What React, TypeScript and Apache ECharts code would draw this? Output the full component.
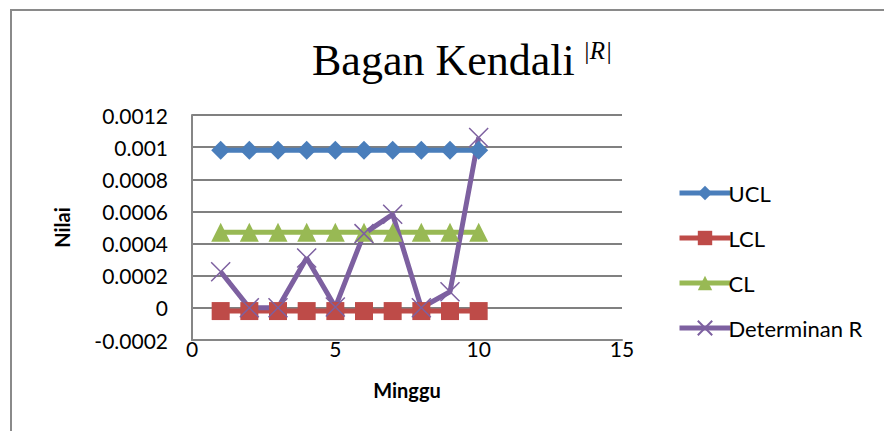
import React, { useEffect, useRef } from "react";
import * as echarts from "echarts";

const weeks = [1, 2, 3, 4, 5, 6, 7, 8, 9, 10];
const ucl = [0.00098, 0.00098, 0.00098, 0.00098, 0.00098, 0.00098, 0.00098, 0.00098, 0.00098, 0.00098];
const lcl = [-0.00002, -0.00002, -0.00002, -0.00002, -0.00002, -0.00002, -0.00002, -0.00002, -0.00002, -0.00002];
const cl = [0.00047, 0.00047, 0.00047, 0.00047, 0.00047, 0.00047, 0.00047, 0.00047, 0.00047, 0.00047];
const detR = [0.000225, 0.0000005, 0.000001, 0.00031, 0.000005, 0.000462, 0.000582, 0.000001, 0.0001, 0.00106];

const pair = (ys: number[]) => weeks.map((w, i) => [w, ys[i]]);

const FONT = "Lato";

export default function App() {
  const ref = useRef<HTMLDivElement>(null);
  useEffect(() => {
    if (!ref.current) return;
    const chart = echarts.init(ref.current, undefined, { renderer: "svg" });
    const lineSeries = (name: string, data: number[], color: string, symbol: string, size: number, extra: any = {}) => ({
      name,
      type: "line",
      data: pair(data),
      symbol,
      symbolSize: size,
      showAllSymbol: true,
      lineStyle: { color, width: 5 },
      itemStyle: { color, ...extra },
      emphasis: { disabled: true },
    });
    chart.setOption({
      animation: false,
      backgroundColor: "#ffffff",
      title: {
        text: "Bagan Kendali",
        left: 307,
        top: 33,
        textStyle: { fontFamily: "Liberation Serif", fontSize: 44, fontWeight: "normal", color: "#000" },
      },
      graphic: [
        {
          type: "rect",
          shape: { x: 11, y: 10, width: 1000, height: 600 },
          style: { fill: "none", stroke: "#8a8a8a", lineWidth: 2 },
          silent: true,
        },
        {
          type: "text",
          x: 583,
          y: 38,
          style: { text: "|R|", font: "italic 25px 'Liberation Serif'", fill: "#000" },
        },
      ],
      legend: {
        orient: "vertical",
        left: 672,
        top: 177,
        itemWidth: 51,
        itemHeight: 18,
        itemGap: 23,
        lineStyle: { width: 5 },
        textStyle: { fontFamily: FONT, fontSize: 22, color: "#000", padding: [0, 0, 0, -7] },
        data: ["UCL", "LCL", "CL", "Determinan R"],
      },
      grid: { left: 192, right: 262, top: 115, bottom: 91, containLabel: false },
      xAxis: {
        type: "value",
        min: 0,
        max: 15,
        interval: 5,
        name: "Minggu",
        nameLocation: "middle",
        nameGap: 40,
        nameTextStyle: { fontFamily: FONT, fontSize: 20, fontWeight: "bold", color: "#000" },
        axisLine: { show: true, onZero: false, lineStyle: { color: "#868686", width: 2 } },
        axisTick: { show: false },
        splitLine: { show: false },
        axisLabel: { fontFamily: FONT, fontSize: 21, color: "#000", margin: -2 },
      },
      yAxis: {
        type: "value",
        min: -0.0002,
        max: 0.0012,
        interval: 0.0002,
        name: "Nilai",
        nameLocation: "middle",
        nameGap: 120,
        nameRotate: 90,
        nameTextStyle: { fontFamily: FONT, fontSize: 20, fontWeight: "bold", color: "#000" },
        axisLine: { show: true, onZero: false, lineStyle: { color: "#868686", width: 2 } },
        axisTick: { show: false },
        splitLine: { show: true, lineStyle: { color: "#808080", width: 1.8 } },
        axisLabel: {
          fontFamily: FONT,
          fontSize: 21,
          color: "#000",
          margin: 24,
          formatter: (v: number) => String(Math.round(v * 1e5) / 1e5),
        },
      },
      series: [
        lineSeries("UCL", ucl, "#4A7EBB", "diamond", 19),
        lineSeries("LCL", lcl, "#BE4B48", "rect", 18),
        lineSeries("CL", cl, "#98B954", "triangle", 19),
        lineSeries("Determinan R", detR, "#7D60A0", "path://M0,0L10,10M10,0L0,10", 19, {
          borderColor: "#7D60A0",
          borderWidth: 1.5,
        }),
      ],
    });
    return () => chart.dispose();
  }, []);
  return <div ref={ref} style={{ position: "absolute", left: 0, top: 0, width: 884, height: 431 }} />;
}
